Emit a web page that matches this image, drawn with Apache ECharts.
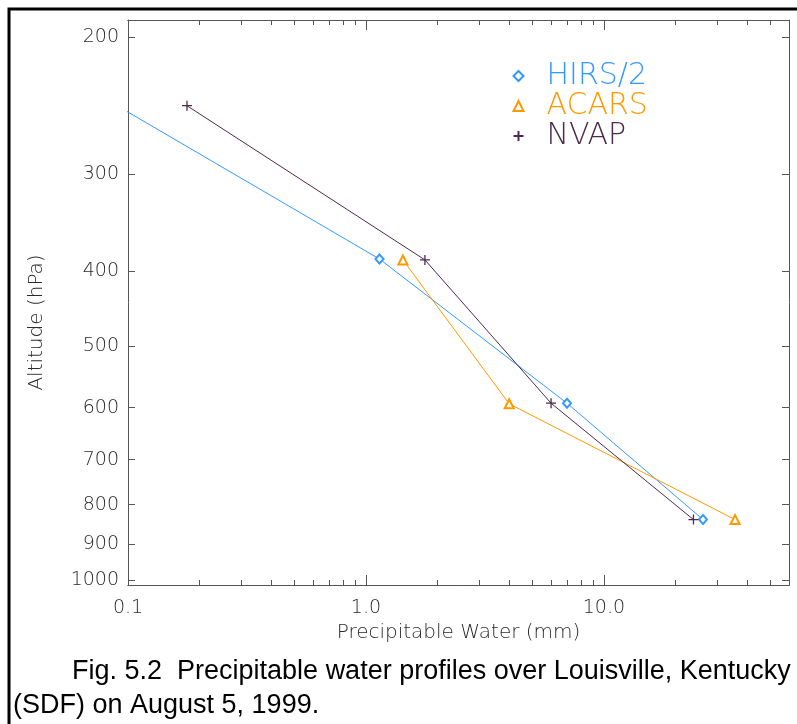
<!DOCTYPE html>
<html>
<head>
<meta charset="utf-8">
<title>Precipitable water profiles</title>
<script src="https://cdn.jsdelivr.net/npm/echarts@6/dist/echarts.min.js"></script>
<style>
  html, body { margin: 0; padding: 0; background: #fff; }
  #chart { width: 797px; height: 724px; }
</style>
</head>
<body>
<div id="chart"></div>
<script>
// precipitable water (mm) vs pressure (hPa)
var hirsPw = [0.029, 1.14, 7.0, 26.1];
var hirsP = [200, 386, 592, 836];
var acarsPw = [1.43, 4.0, 35.6];
var acarsP = [387, 593, 836];
var nvapPw = [0.177, 1.77, 6.0, 23.8];
var nvapP = [245, 387, 592, 836];

var pressureTicks = [200, 300, 400, 500, 600, 700, 800, 900, 1000];
var pwMajorTicks = [0.1, 1, 10];
var pwMinorTicks = [0.2, 0.3, 0.4, 0.5, 0.6, 0.7, 0.8, 0.9,
                    2, 3, 4, 5, 6, 7, 8, 9, 20, 30, 40, 50];

var thin = 'DejaVu Sans';
var axisCol = '#555';
var labelCol = '#2a2a2a';

function pairs(xs, ys) {
    var out = [];
    for (var i = 0; i < xs.length; i++) out.push([xs[i], ys[i]]);
    return out;
}

function xAx(pos, ticks, len, withLabels) {
    return {
        type: 'log', position: pos, min: 0.1, max: 60,
        axisLine: { show: true, lineStyle: { color: axisCol, width: 1 } },
        axisTick: { show: true, inside: true, length: len, customValues: ticks,
                    lineStyle: { color: axisCol } },
        axisLabel: withLabels ? {
            show: true, customValues: ticks, margin: 14,
            fontFamily: thin, fontWeight: 200, fontSize: 19, color: labelCol,
            formatter: function (v) { return Number(v).toFixed(1); }
        } : { show: false },
        splitLine: { show: false },
        minorTick: { show: false }
    };
}

function yAx(pos, withLabels) {
    return {
        type: 'log', position: pos, min: 190, max: 1015, inverse: true,
        axisLine: { show: true, lineStyle: { color: axisCol, width: 1 } },
        axisTick: { show: true, inside: true, length: 7, customValues: pressureTicks,
                    lineStyle: { color: axisCol } },
        axisLabel: withLabels ? {
            show: true, customValues: pressureTicks, margin: 9,
            fontFamily: thin, fontWeight: 200, fontSize: 19, color: labelCol,
            formatter: function (v) { return String(Math.round(v)); }
        } : { show: false },
        splitLine: { show: false }
    };
}

var xBottom = xAx('bottom', pwMajorTicks, 10, true);
xBottom.name = 'Precipitable Water (mm)';
xBottom.nameLocation = 'middle';
xBottom.nameGap = 38;
xBottom.nameTextStyle = { fontFamily: thin, fontWeight: 200, fontSize: 20, color: labelCol };

var yLeft = yAx('left', true);
yLeft.name = 'Altitude (hPa)';
yLeft.nameLocation = 'middle';
yLeft.nameGap = 81;
yLeft.nameTextStyle = { fontFamily: thin, fontWeight: 200, fontSize: 20, color: labelCol,
                        padding: [0, 40, 0, 0] };

var plus = 'path://M0,5L10,5M5,0L5,10';

var chart = echarts.init(document.getElementById('chart'));
chart.setOption({
    animation: false,
    grid: { left: 128, top: 20, right: 8, bottom: 139, containLabel: false },
    xAxis: [
        xBottom,
        xAx('bottom', pwMinorTicks, 5, false),
        xAx('top', pwMajorTicks, 10, false),
        xAx('top', pwMinorTicks, 5, false)
    ],
    yAxis: [yLeft, yAx('right', false)],
    legend: {
        orient: 'vertical', left: 506, top: 56,
        itemWidth: 10, itemHeight: 10, itemGap: 0,
        textStyle: { fontFamily: thin, fontWeight: 200, fontSize: 30, lineHeight: 29,
                     padding: [0, 0, 0, 18] },
        data: [
            { name: 'HIRS/2', icon: 'emptyDiamond', textStyle: { color: '#3399ff' } },
            { name: 'ACARS', icon: 'emptyTriangle', textStyle: { color: '#ff9900' } },
            { name: 'NVAP', icon: plus, textStyle: { color: '#4b2a4b' } }
        ]
    },
    series: [
        {
            name: 'HIRS/2', type: 'line', data: pairs(hirsPw, hirsP),
            symbol: 'emptyDiamond', symbolSize: [8, 9],
            lineStyle: { color: '#3399ff', width: 1 },
            itemStyle: { color: '#3399ff', borderColor: '#3399ff', borderWidth: 1 }
        },
        {
            name: 'ACARS', type: 'line', data: pairs(acarsPw, acarsP),
            symbol: 'emptyTriangle', symbolSize: [9, 9],
            lineStyle: { color: '#ff9900', width: 1 },
            itemStyle: { color: '#ff9900', borderColor: '#ff9900', borderWidth: 1 }
        },
        {
            name: 'NVAP', type: 'line', data: pairs(nvapPw, nvapP),
            symbol: plus, symbolSize: 10,
            lineStyle: { color: '#4b2a4b', width: 1 },
            itemStyle: { color: 'none', borderColor: '#4b2a4b', borderWidth: 1.3 }
        }
    ],
    graphic: [
        { type: 'rect', shape: { x: 9, y: 9, width: 820, height: 760 },
          style: { fill: 'none', stroke: '#000', lineWidth: 3 }, silent: true },
        { type: 'text', left: 72, top: 658,
          style: { text: 'Fig. 5.2  Precipitable water profiles over Louisville, Kentucky',
                   font: '27px "Liberation Sans"', fill: '#000' } },
        { type: 'text', left: 13, top: 692,
          style: { text: '(SDF) on August 5, 1999.',
                   font: '27px "Liberation Sans"', fill: '#000' } }
    ]
});
</script>
</body>
</html>
